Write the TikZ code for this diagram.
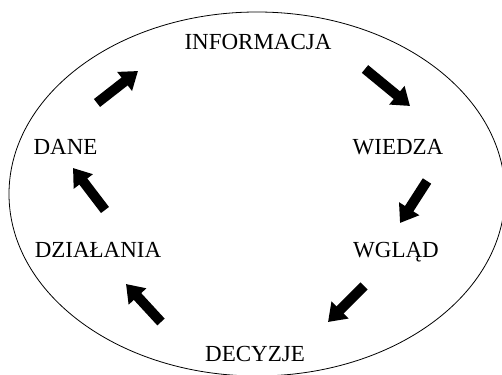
\documentclass[tikz,border=0pt]{standalone}
\usepackage{fontspec}
\setmainfont{Liberation Serif}
\usetikzlibrary{arrows.meta}
\begin{document}
\begin{tikzpicture}[x=1pt,y=-1pt,
  label/.style={anchor=base,inner sep=0pt,font=\fontsize{23}{27}\selectfont},
  bigarrow/.style={line width=10pt,line cap=butt,-{Triangle[width=23pt,length=17pt]}}]
\useasboundingbox (0,0) rectangle (502,374);
% outer cycle
\draw[line width=0.8pt] (257,194) ellipse [x radius=248, y radius=182];
% stages
\node[label] (info)  at (258,50)  {INFORMACJA};
\node[label] (wiedza) at (398,154) {WIEDZA};
\node[label] (wglad) at (396,257) {WGLĄD};
\node[label] (decyzje) at (255,361) {DECYZJE};
\node[label] (dzialania) at (98,257) {DZIAŁANIA};
\node[label] (dane) at (65.5,154) {DANE};
% arrow ends
\coordinate (a1s) at (97,103);  \coordinate (a1e) at (138,71);
\coordinate (a2s) at (365,69);  \coordinate (a2e) at (410,106);
\coordinate (a3s) at (427,181); \coordinate (a3e) at (400,223);
\coordinate (a4s) at (364,286); \coordinate (a4e) at (328,322);
\coordinate (a5s) at (161,322); \coordinate (a5e) at (126,284);
\coordinate (a6s) at (105,210); \coordinate (a6e) at (73,168);
\draw[bigarrow] (a1s) -- (a1e);
\draw[bigarrow] (a2s) -- (a2e);
\draw[bigarrow] (a3s) -- (a3e);
\draw[bigarrow] (a4s) -- (a4e);
\draw[bigarrow] (a5s) -- (a5e);
\draw[bigarrow] (a6s) -- (a6e);
\end{tikzpicture}
\end{document}
